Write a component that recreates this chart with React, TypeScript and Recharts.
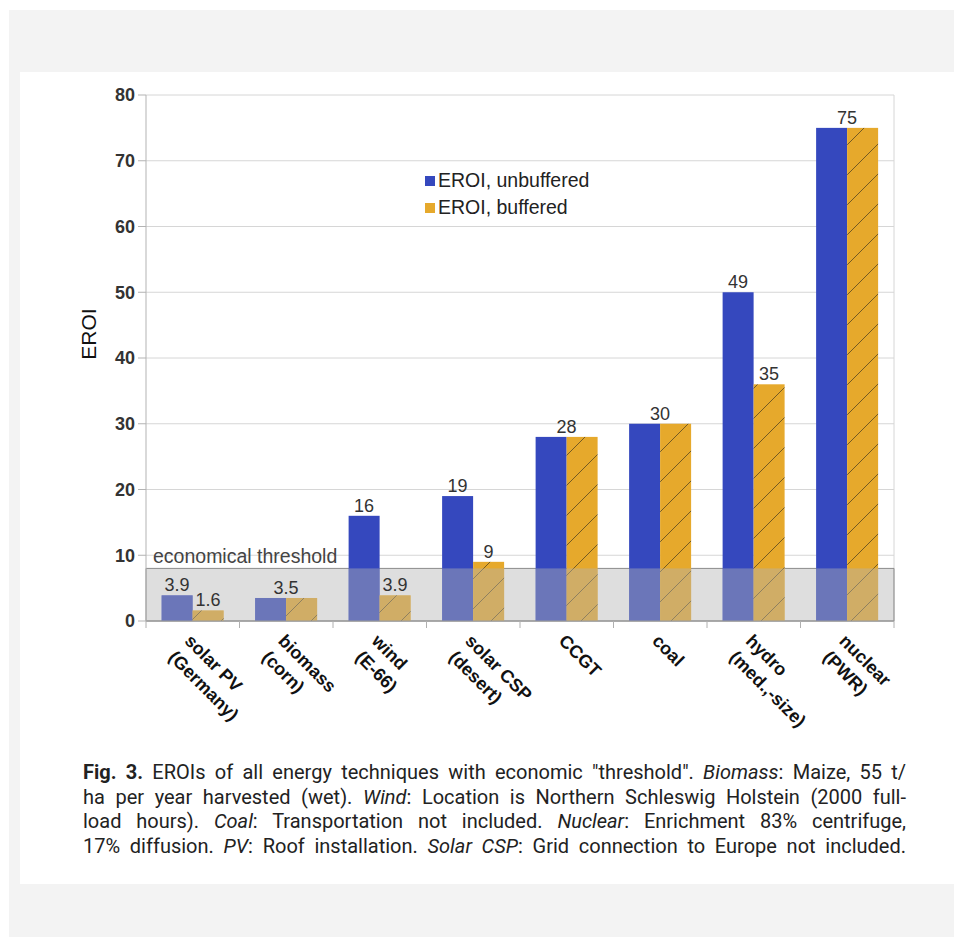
import {
  BarChart,
  Bar,
  XAxis,
  YAxis,
  CartesianGrid,
  ReferenceArea,
  LabelList,
  Legend,
} from "recharts";

const categories = [
  "solar PV\n(Germany)",
  "biomass\n(corn)",
  "wind\n(E-66)",
  "solar CSP\n(desert)",
  "CCGT",
  "coal",
  "hydro\n(med.,-size)",
  "nuclear\n(PWR)",
];
const unbuffered = [3.9, 3.5, 16, 19, 28, 30, 50, 75];
const buffered = [1.6, 3.5, 3.9, 9, 28, 30, 36, 75];
const unbufferedLabels = ["3.9", "3.5", "16", "19", "28", "30", "49", "75"];
const bufferedLabels = ["1.6", "3.5", "3.9", "9", "28", "30", "35", "75"];
const yTicks = [0, 10, 20, 30, 40, 50, 60, 70, 80];
const threshold = 8;
const seriesNames = ["EROI, unbuffered", "EROI, buffered"];

const BLUE = "#3548be";
const YELLOW = "#e6a92c";
const SHADE = "#b2b2b2";
const SHADE_OPACITY = 0.43;

const data = categories.map((name, i) => ({
  name,
  unbuffered: unbuffered[i],
  buffered: buffered[i],
}));

const W = 934;
const H = 668;
const margin = { top: 23, right: 60, left: 10, bottom: 9 };
const yAxisWidth = 116;
const band = (W - margin.left - yAxisWidth - margin.right) / categories.length;

const chartFont = "'Liberation Sans', Arial, sans-serif";

const CategoryTick = (props: any) => {
  const { x, y, payload, index } = props;
  const lines = String(payload.value).split("\n");
  return (
    <g>
      <line x1={x - band / 2} y1={y} x2={x - band / 2} y2={y + 7} stroke="#b0b0b0" />
      {index === categories.length - 1 && (
        <line x1={x + band / 2} y1={y} x2={x + band / 2} y2={y + 7} stroke="#b0b0b0" />
      )}
      <g transform={`translate(${x - 9},${y + 21}) rotate(45)`}>
        {lines.map((l, i) => (
          <text
            key={i}
            x={0}
            y={i * 23}
            fill="#111"
            fontSize={18}
            fontWeight="bold"
            fontFamily={chartFont}
          >
            {l}
          </text>
        ))}
      </g>
    </g>
  );
};

// bar with the part under the threshold greyed, as the band lies over it
const ShadedBar = (props: any) => {
  const { x, y, width, height, fill, value } = props;
  const v = Array.isArray(value) ? value[1] - value[0] : value;
  const bottom = y + height;
  const top = v > 0 ? Math.max(y, bottom - (threshold * height) / v) : bottom;
  return (
    <g>
      <rect x={x} y={y} width={width} height={height} fill={fill} />
      <rect x={x} y={top} width={width} height={bottom - top} fill={SHADE} fillOpacity={SHADE_OPACITY} />
    </g>
  );
};

const pairLabel = (own: string[], other: string[], first: boolean) => (props: any) => {
  const { x, y, width, index } = props;
  const same = own[index] === other[index];
  if (same && !first) return null;
  const cx = same ? x + width : x + width / 2;
  return (
    <text
      x={cx}
      y={y - 4}
      textAnchor="middle"
      fill="#333"
      fontSize={18}
      fontFamily={chartFont}
    >
      {own[index]}
    </text>
  );
};

const AxisTitle = (props: any) => {
  const vb = props.viewBox || {};
  const cx = vb.x + vb.width / 2;
  const cy = vb.y + vb.height / 2 - 24;
  return (
    <text
      x={cx}
      y={cy}
      transform={`rotate(-90, ${cx}, ${cy})`}
      textAnchor="middle"
      dominantBaseline="central"
      fill="#111"
      fontSize={21}
      fontFamily={chartFont}
    >
      EROI
    </text>
  );
};

const ThresholdLabel = (props: any) => {
  const vb = props.viewBox || {};
  return (
    <text x={vb.x + 7} y={vb.y - 5} fill="#444" fontSize={19.5} fontFamily={chartFont}>
      economical threshold
    </text>
  );
};

const LegendBox = () => (
  <div style={{ fontFamily: chartFont, fontSize: 19.5, color: "#222" }}>
    {seriesNames.map((n, i) => (
      <div key={n} style={{ display: "flex", alignItems: "center", height: 27 }}>
        <span
          style={{
            display: "inline-block",
            width: 10,
            height: 10,
            background: i === 0 ? BLUE : YELLOW,
            marginRight: 3,
          }}
        />
        {n}
      </div>
    ))}
  </div>
);

const captionLine = { textAlign: "justify" as const, textAlignLast: "justify" as const };

export default function App() {
  return (
    <div style={{ position: "absolute", left: 0, top: 0, width: 954, height: 938, background: "#fff" }}>
      <div style={{ position: "absolute", left: 9, top: 10, width: 945, height: 927, background: "#f3f3f3" }} />
      <div style={{ position: "absolute", left: 20, top: 72, width: 934, height: 812, background: "#fff" }} />
      <div style={{ position: "absolute", left: 20, top: 72 }}>
        <BarChart
          width={W}
          height={H}
          data={data}
          margin={margin}
          barCategoryGap="16.7%"
          barGap={0}
        >
          <defs>
            <pattern id="hatch" patternUnits="userSpaceOnUse" width={30} height={30}>
              <rect width={30} height={30} fill={YELLOW} />
              <path
                d="M0,30 L30,0 M-5,5 L5,-5 M25,35 L35,25"
                stroke="#3b3320"
                strokeWidth={0.9}
                strokeOpacity={0.75}
              />
            </pattern>
          </defs>
          <CartesianGrid
            stroke="#d6d6d6"
            verticalCoordinatesGenerator={({ offset }: any) => [offset.left + offset.width]}
          />
          <XAxis
            dataKey="name"
            interval={0}
            height={110}
            tick={<CategoryTick />}
            tickLine={false}
            tickSize={0}
            tickMargin={0}
            axisLine={{ stroke: "#9a9a9a" }}
          />
          <YAxis
            width={yAxisWidth}
            domain={[0, 80]}
            ticks={yTicks}
            tickSize={8}
            tickMargin={3}
            tick={{ fill: "#333", fontSize: 18, fontWeight: "bold", fontFamily: chartFont }}
            axisLine={{ stroke: "#b3b3b3" }}
            tickLine={{ stroke: "#b3b3b3" }}
            label={<AxisTitle />}
          />
          <ReferenceArea
            y1={0}
            y2={threshold}
            fill={SHADE}
            fillOpacity={SHADE_OPACITY}
            stroke="#8a8a8a"
            strokeOpacity={1}
            label={<ThresholdLabel />}
          />
          <Legend
            layout="vertical"
            align="center"
            verticalAlign="middle"
            content={<LegendBox />}
            wrapperStyle={{ left: 405, top: 95, width: "auto", height: "auto" }}
          />
          <Bar
            dataKey="unbuffered"
            name={seriesNames[0]}
            fill={BLUE}
            shape={<ShadedBar />}
            isAnimationActive={false}
          >
            <LabelList content={pairLabel(unbufferedLabels, bufferedLabels, true)} />
          </Bar>
          <Bar
            dataKey="buffered"
            name={seriesNames[1]}
            fill="url(#hatch)"
            shape={<ShadedBar />}
            isAnimationActive={false}
          >
            <LabelList content={pairLabel(bufferedLabels, unbufferedLabels, false)} />
          </Bar>
        </BarChart>
      </div>
      <div
        style={{
          position: "absolute",
          left: 83,
          top: 760,
          width: 823,
          fontFamily: "Roboto, 'Liberation Sans', sans-serif",
          fontSize: 20,
          lineHeight: "24.5px",
          color: "#222",
        }}
      >
        <div style={captionLine}>
          <b>Fig. 3.</b>{"  "}EROIs of all energy techniques with economic "threshold". <i>Biomass</i>: Maize, 55 t/
        </div>
        <div style={captionLine}>
          ha per year harvested (wet). <i>Wind</i>: Location is Northern Schleswig Holstein (2000 full-
        </div>
        <div style={captionLine}>
          load hours). <i>Coal</i>: Transportation not included. <i>Nuclear</i>: Enrichment 83% centrifuge,
        </div>
        <div style={captionLine}>
          17% diffusion. <i>PV</i>: Roof installation. <i>Solar CSP</i>: Grid connection to Europe not included.
        </div>
      </div>
    </div>
  );
}
